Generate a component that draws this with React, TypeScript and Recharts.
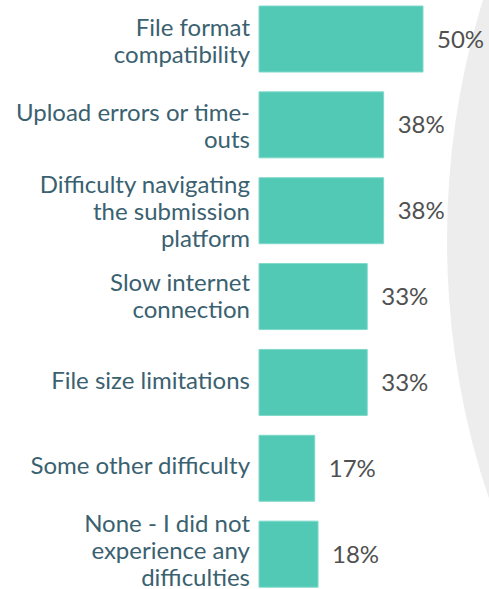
import { BarChart, Bar, XAxis, YAxis, LabelList } from 'recharts';

const categories = [
  'File format compatibility',
  'Upload errors or time-outs',
  'Difficulty navigating the submission platform',
  'Slow internet connection',
  'File size limitations',
  'Some other difficulty',
  'None - I did not experience any difficulties',
];

// how each label wraps, as in the original slide
const labelLines = [
  ['File format', 'compatibility'],
  ['Upload errors or time-', 'outs'],
  ['Difficulty navigating', 'the submission', 'platform'],
  ['Slow internet', 'connection'],
  ['File size limitations'],
  ['Some other difficulty'],
  ['None - I did not', 'experience any', 'difficulties'],
];

const shares = [50, 38, 38, 33, 33, 17, 18];

const data = categories.map((name, i) => ({ name, value: shares[i] }));

const FONT = 'Lato, "Open Sans", sans-serif';

function CategoryTick(props: any) {
  const { x, y, index } = props;
  const lines: string[] = labelLines[index] || [props.payload.value];
  const step = 27;
  // text rows on the slide drift up a little against the bars
  const shift = 11 - index;
  return (
    <g>
      {lines.map((line, i) => (
        <text
          key={i}
          x={x}
          y={y + shift + (i - (lines.length - 1) / 2) * step}
          textAnchor="end"
          fill="#3A6170"
          fontSize={24}
          fontFamily={FONT}
        >
          {line}
        </text>
      ))}
    </g>
  );
}

export default function App() {
  return (
    <div style={{ position: 'absolute', left: 0, top: 0, width: 489, height: 589, overflow: 'hidden', background: '#fff' }}>
      {/* light grey backdrop shape on the right */}
      <div
        style={{
          position: 'absolute',
          left: 447,
          top: -360,
          width: 862,
          height: 1200,
          borderRadius: '50%',
          background: '#EDEDED',
        }}
      />
      <div style={{ position: 'absolute', left: 0, top: -4 }}>
        <BarChart
          width={489}
          height={601}
          data={data}
          layout="vertical"
          margin={{ top: 0, right: 66, bottom: 0, left: 0 }}
        >
          <XAxis type="number" domain={[0, 50]} hide />
          <YAxis
            type="category"
            dataKey="name"
            width={259}
            axisLine={false}
            tickLine={false}
            tickSize={0}
            tickMargin={9}
            interval={0}
            tick={<CategoryTick />}
          />
          <Bar dataKey="value" fill="#52C9B4" stroke="#7FD9C9" strokeWidth={1} barSize={66} isAnimationActive={false}>
            <LabelList
              dataKey="value"
              position="right"
              offset={14}
              formatter={(v: any) => `${v}%`}
              fill="#505050"
              fontSize={24}
              fontFamily={FONT}
            />
          </Bar>
        </BarChart>
      </div>
    </div>
  );
}
